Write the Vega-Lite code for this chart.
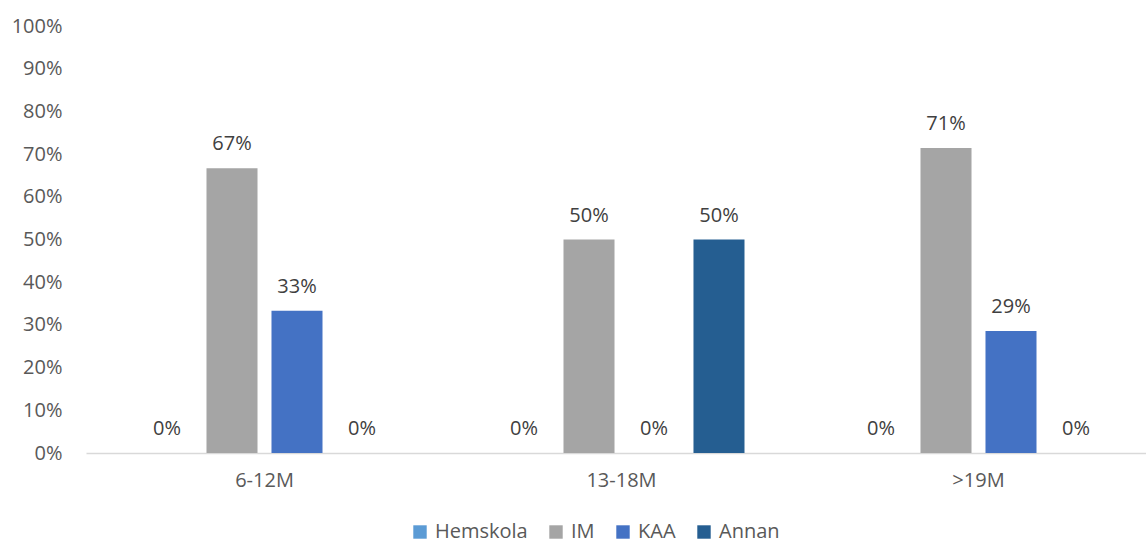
{
  "$schema": "https://vega.github.io/schema/vega-lite/v6.json",
  "autosize": {"type": "none"},
  "padding": {"left": 86, "top": 26, "right": 0, "bottom": 92},
  "width": 1071,
  "height": 427,
  "background": "white",
  "config": {
    "view": {"stroke": null},
    "font": "Open Sans"
  },
  "data": {
    "values": [
      {"period": "6-12M", "type": "Hemskola", "value": 0},
      {"period": "6-12M", "type": "IM", "value": 0.667},
      {"period": "6-12M", "type": "KAA", "value": 0.333},
      {"period": "6-12M", "type": "Annan", "value": 0},
      {"period": "13-18M", "type": "Hemskola", "value": 0},
      {"period": "13-18M", "type": "IM", "value": 0.5},
      {"period": "13-18M", "type": "KAA", "value": 0},
      {"period": "13-18M", "type": "Annan", "value": 0.5},
      {"period": ">19M", "type": "Hemskola", "value": 0},
      {"period": ">19M", "type": "IM", "value": 0.714},
      {"period": ">19M", "type": "KAA", "value": 0.286},
      {"period": ">19M", "type": "Annan", "value": 0}
    ]
  },
  "encoding": {
    "x": {
      "field": "period",
      "type": "nominal",
      "sort": ["6-12M", "13-18M", ">19M"],
      "scale": {"paddingInner": 0, "paddingOuter": 0},
      "axis": {
        "title": null,
        "labelAngle": 0,
        "labelFontSize": 20,
        "labelColor": "#595959",
        "labelPadding": 17,
        "ticks": false,
        "domainColor": "#D9D9D9",
        "domainWidth": 1.5
      }
    },
    "xOffset": {
      "field": "type",
      "type": "nominal",
      "sort": ["Hemskola", "IM", "KAA", "Annan"],
      "scale": {"paddingInner": 0.215, "paddingOuter": 0.854}
    },
    "y": {
      "field": "value",
      "type": "quantitative",
      "scale": {"domain": [0, 1]},
      "axis": {
        "title": null,
        "format": ".0%",
        "values": [0, 0.1, 0.2, 0.3, 0.4, 0.5, 0.6, 0.7, 0.8, 0.9, 1],
        "labelOverlap": false,
        "grid": false,
        "domain": false,
        "ticks": false,
        "labelFontSize": 20,
        "labelColor": "#595959",
        "labelPadding": 24
      }
    }
  },
  "layer": [
    {
      "mark": {"type": "bar"},
      "encoding": {
        "color": {
          "field": "type",
          "type": "nominal",
          "sort": ["Hemskola", "IM", "KAA", "Annan"],
          "scale": {
            "domain": ["Hemskola", "IM", "KAA", "Annan"],
            "range": ["#5B9BD5", "#A5A5A5", "#4472C4", "#255E91"]
          },
          "legend": {
            "title": null,
            "orient": "none",
            "direction": "horizontal",
            "legendX": 324,
            "legendY": 496,
            "symbolType": "square",
            "symbolSize": 180,
            "symbolStrokeWidth": 0,
            "labelFontSize": 20,
            "labelColor": "#595959",
            "columnPadding": 18,
            "labelOffset": 5
          }
        }
      }
    },
    {
      "mark": {"type": "text", "baseline": "alphabetic", "dy": -18, "fontSize": 20, "color": "#404040"},
      "encoding": {
        "text": {"field": "value", "type": "quantitative", "format": ".0%"}
      }
    }
  ]
}
